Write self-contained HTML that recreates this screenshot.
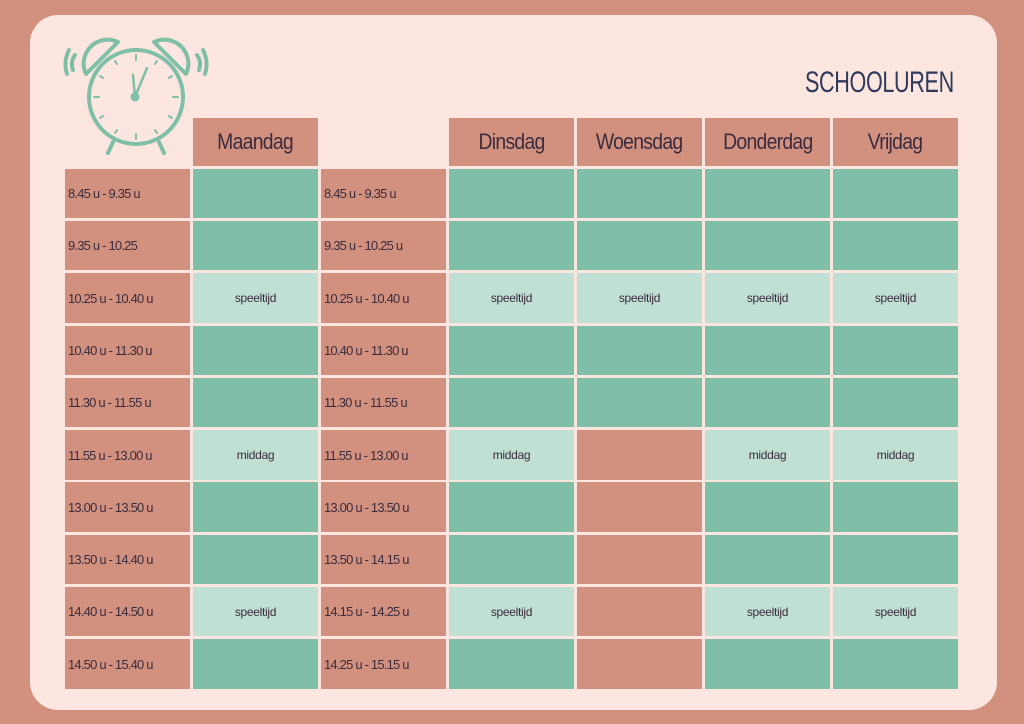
<!DOCTYPE html><html><head><style>
body{margin:0;width:1024px;height:724px;background:#d2917f;position:relative;overflow:hidden;font-family:"Liberation Sans",sans-serif}
.card{position:absolute;left:30px;top:15px;width:967px;height:695px;background:#fde6df;border-radius:28px}
.c{position:absolute;display:flex;align-items:center;color:#3a2c3e;box-sizing:border-box}
.s{background:#d2917f}.g{background:#7fbfa7}.l{background:#c0e0d4}
.t{font-size:13px;padding-left:3px;letter-spacing:-0.8px}
.h{justify-content:center;font-size:22px;letter-spacing:-0.8px}
.h span{display:inline-block;transform:scaleX(0.88)}
.m{justify-content:center;font-size:12px;letter-spacing:-0.3px}
</style></head><body><div class="card"></div>
<svg style="position:absolute;left:60px;top:30px" width="150" height="130" viewBox="60 30 150 130" fill="none" stroke="#7fbfa7" stroke-width="4" stroke-linecap="round">
<circle cx="136" cy="97" r="47"/>
<path d="M86 74 A24 24 0 0 1 118 42 Z M186 74 A24 24 0 0 0 154 42 Z" stroke-linejoin="round"/>
<path d="M75 55 Q70 62 73 70 M69 50 Q63 62 67 74 M197 55 Q202 62 199 70 M203 50 Q209 62 205 74"/>
<path d="M114 140 L108 153 M158 140 L164 153"/>
<path d="M135 97 L133 75 M135 97 L147 68" stroke-width="2.5"/>
<g stroke-width="2"><path d="M136 55v5M136 134v5M94 97h5M173 97h5M115 61l2 3M157 61l-2 3M100 76l3 2M172 76l-3 2M100 118l3-2M172 118l-3-2M115 133l2-3M157 133l-2-3"/></g>
<circle cx="135" cy="97" r="2.5" fill="#7fbfa7"/>
</svg>
<div class="c" style="left:805px;top:66px;font-size:30px;color:#2e3a5c;letter-spacing:-0.5px;transform:scaleX(0.72);transform-origin:left center">SCHOOLUREN</div>
<div id="g"></div>
<script>
var X=[65,193,321,449,577,705,833],W=125;
var Y=[169,221,273,326,378,430,482,535,587,639],H=[49,49,50,49,49,50,50,49,49,50];
var h='';
var heads={1:'Maandag',3:'Dinsdag',4:'Woensdag',5:'Donderdag',6:'Vrijdag'};
for(var k in heads)h+='<div class="c s h" style="left:'+X[k]+'px;top:118px;width:'+W+'px;height:48px"><span>'+heads[k]+'</span></div>';
var t1=['8.45 u - 9.35 u','9.35 u - 10.25','10.25 u - 10.40 u','10.40 u - 11.30 u','11.30 u - 11.55 u','11.55 u - 13.00 u','13.00 u - 13.50 u','13.50 u - 14.40 u','14.40 u - 14.50 u','14.50 u - 15.40 u'];
var t2=['8.45 u - 9.35 u','9.35 u - 10.25 u','10.25 u - 10.40 u','10.40 u - 11.30 u','11.30 u - 11.55 u','11.55 u - 13.00 u','13.00 u - 13.50 u','13.50 u - 14.15 u','14.15 u - 14.25 u','14.25 u - 15.15 u'];
for(var r=0;r<10;r++){
 var sp=(r==2||r==8)?'speeltijd':(r==5?'middag':'');
 for(var c=0;c<7;c++){
  var cls,txt='';
  if(c==0){cls='s t';txt=t1[r];}
  else if(c==2){cls='s t';txt=t2[r];}
  else if(c==4&&r>=5){cls='s';}
  else if(sp){cls='l m';txt=sp;}
  else cls='g';
  h+='<div class="c '+cls+'" style="left:'+X[c]+'px;top:'+Y[r]+'px;width:'+W+'px;height:'+H[r]+'px">'+txt+'</div>';
 }}
document.getElementById('g').innerHTML=h;
</script></body></html>
